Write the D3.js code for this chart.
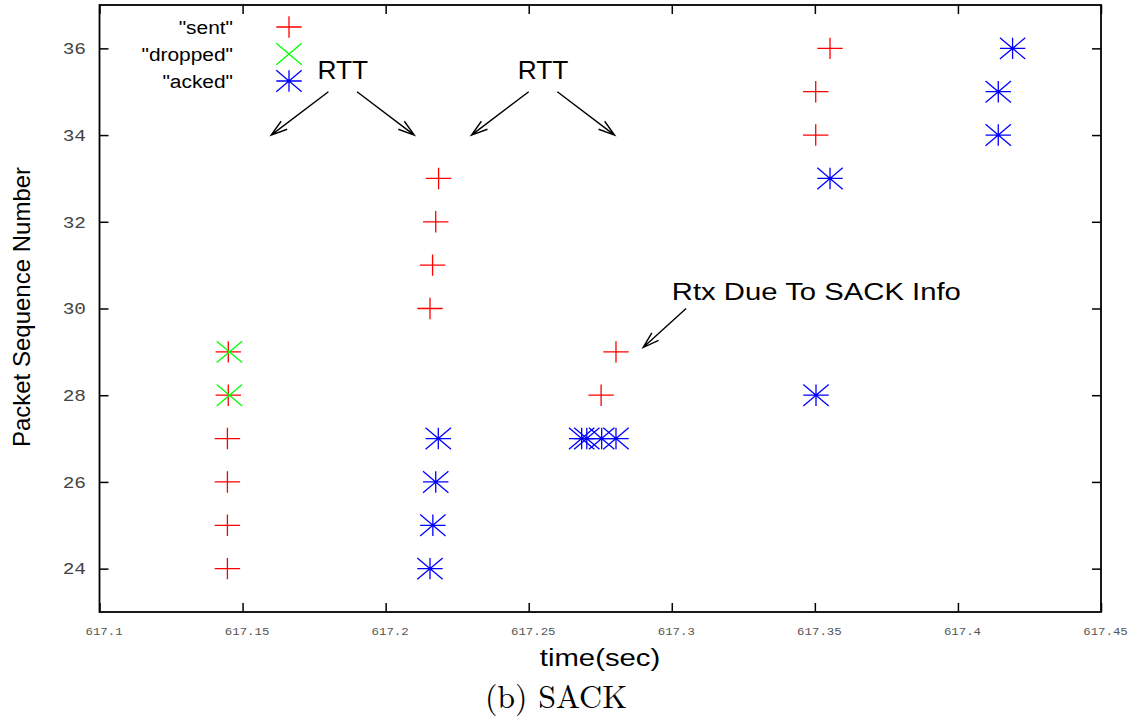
<!DOCTYPE html>
<html>
<head>
<meta charset="utf-8">
<script src="https://cdn.jsdelivr.net/npm/d3@7"></script>
<style>
body { margin: 0; background: #fff; }
</style>
</head>
<body>
<div id="chart"></div>
<script>
// series: time (sec) and packet sequence number
let sentTime = [617.1447, 617.1447, 617.1447, 617.1447, 617.1450, 617.1450,
  617.2155, 617.2164, 617.2175, 617.2185, 617.2753, 617.2805,
  617.3503, 617.3503, 617.3553];
let sentSeq = [24, 25, 26, 27, 28, 29, 30, 31, 32, 33, 28, 29, 34, 35, 36];

let droppedTime = [617.1454, 617.1454];
let droppedSeq = [28, 29];

let ackedTime = [617.2155, 617.2165, 617.2175, 617.2184,
  617.2685, 617.2703, 617.2755, 617.2805,
  617.3504, 617.3553, 617.4141, 617.4141, 617.4191];
let ackedSeq = [24, 25, 26, 27, 27, 27, 27, 27, 28, 33, 34, 35, 36];

let xTicks = [617.1, 617.15, 617.2, 617.25, 617.3, 617.35, 617.4, 617.45];
let xTickLabels = ["617.1", "617.15", "617.2", "617.25", "617.3", "617.35", "617.4", "617.45"];
let yTicks = [24, 26, 28, 30, 32, 34, 36];

let legendNames = ["\"sent\"", "\"dropped\"", "\"acked\""];

// annotations (data coordinates)
let arrowFrom = [[617.18, 35], [617.19, 35], [617.25, 35], [617.26, 35], [617.305, 30]];
let arrowTo = [[617.16, 34], [617.21, 34], [617.23, 34], [617.28, 34], [617.29, 29.1]];
let labelText = ["RTT", "RTT", "Rtx Due To SACK Info"];
let labelPos = [[617.185, 35.5], [617.255, 35.5], [617.3, 30.4]];

let width = 1139, height = 721;
let sans = "'Liberation Sans', Arial, sans-serif";
let mono = "'Liberation Mono', 'Courier New', monospace";

let svg = d3.select("#chart")
  .append("svg")
  .attr("width", width)
  .attr("height", height)
  .style("background", "#fff")
  .style("font-family", sans);

let x = d3.scaleLinear().domain([617.1, 617.45]).range([99.5, 1101]);
let y = d3.scaleLinear().domain([23, 37]).range([612, 5]);

let hw = 12.7, hh = 10.7;

function plus(px, py) {
  return `M${px - hw},${py}H${px + hw}M${px},${py - hh}V${py + hh}`;
}
function cross(px, py) {
  return `M${px - hw},${py - hh}L${px + hw},${py + hh}M${px - hw},${py + hh}L${px + hw},${py - hh}`;
}
function star(px, py) {
  return plus(px, py) + cross(px, py);
}

// axes, ticks pointing inward on all four sides
function styleAxis(g) {
  g.select(".domain").remove();
  g.selectAll(".tick line").attr("stroke", "#000").attr("stroke-width", 1.5);
}

svg.append("g")
  .attr("transform", `translate(0,${y(23)})`)
  .call(d3.axisBottom(x).tickValues(xTicks).tickSize(-9).tickPadding(16)
    .tickFormat((d, i) => xTickLabels[i]))
  .call(styleAxis)
  .call(g => g.selectAll("text")
    .style("font-family", mono)
    .style("font-size", "10.5px")
    .attr("fill", "#555")
    .attr("dx", 3.4)
    .attr("transform", "scale(1.18,1)"));

svg.append("g")
  .attr("transform", `translate(0,${y(37)})`)
  .call(d3.axisTop(x).tickValues(xTicks).tickSize(-9).tickFormat(""))
  .call(styleAxis);

svg.append("g")
  .attr("transform", `translate(${x(617.1)},0)`)
  .call(d3.axisLeft(y).tickValues(yTicks).tickSize(-9).tickPadding(11.4))
  .call(styleAxis)
  .call(g => g.selectAll("text")
    .style("font-family", mono)
    .style("font-size", "16.5px")
    .attr("fill", "#444")
    .attr("transform", "scale(1.18,1)"));

svg.append("g")
  .attr("transform", `translate(${x(617.45)},0)`)
  .call(d3.axisRight(y).tickValues(yTicks).tickSize(-9).tickFormat(""))
  .call(styleAxis);

// frame
svg.append("rect")
  .attr("x", x(617.1))
  .attr("y", y(37))
  .attr("width", x(617.45) - x(617.1))
  .attr("height", y(23) - y(37))
  .attr("fill", "none")
  .attr("stroke", "#000")
  .attr("stroke-width", 1.8);

// points
let series = [
  { t: sentTime, s: sentSeq, color: "#ff0000", shape: plus },
  { t: droppedTime, s: droppedSeq, color: "#00ff00", shape: cross },
  { t: ackedTime, s: ackedSeq, color: "#0000ff", shape: star }
];

series.forEach(sr => {
  svg.append("g").selectAll("path")
    .data(sr.t.map((t, i) => [t, sr.s[i]]))
    .enter()
    .append("path")
    .attr("d", d => sr.shape(x(d[0]), y(d[1])))
    .attr("fill", "none")
    .attr("stroke", sr.color)
    .attr("stroke-width", 1.3);
});

// legend
let legend = svg.append("g");
series.forEach((sr, i) => {
  let ly = 27 + i * 27;
  legend.append("text")
    .attr("transform", `translate(233,${ly}) scale(1.1,1)`)
    .attr("dy", "0.35em")
    .attr("text-anchor", "end")
    .style("font-size", "19px")
    .text(legendNames[i]);
  legend.append("path")
    .attr("d", sr.shape(289, ly))
    .attr("fill", "none")
    .attr("stroke", sr.color)
    .attr("stroke-width", 1.3);
});

// arrows
let headLen = 17, headAng = 0.3;
arrowFrom.forEach((a, i) => {
  let x1 = x(a[0]), y1 = y(a[1]);
  let x2 = x(arrowTo[i][0]), y2 = y(arrowTo[i][1]);
  let ang = Math.atan2(y1 - y2, x1 - x2);
  let d = `M${x1},${y1}L${x2},${y2}` +
    `M${x2 + headLen * Math.cos(ang - headAng)},${y2 + headLen * Math.sin(ang - headAng)}L${x2},${y2}` +
    `L${x2 + headLen * Math.cos(ang + headAng)},${y2 + headLen * Math.sin(ang + headAng)}`;
  svg.append("path")
    .attr("d", d)
    .attr("fill", "none")
    .attr("stroke", "#000")
    .attr("stroke-width", 1.4);
});

labelText.forEach((t, i) => {
  let big = t == "RTT";
  svg.append("text")
    .attr("transform", `translate(${x(labelPos[i][0])},${y(labelPos[i][1])}) scale(${big ? 1.05 : 1.22},1)`)
    .attr("dy", "0.35em")
    .attr("text-anchor", big ? "middle" : "start")
    .style("font-size", big ? "25px" : "24px")
    .text(t);
});

// axis titles and caption
svg.append("text")
  .attr("transform", "translate(30,307) rotate(-90)")
  .attr("text-anchor", "middle")
  .style("font-size", "24px")
  .text("Packet Sequence Number");

svg.append("text")
  .attr("transform", "translate(600,666) scale(1.22,1)")
  .attr("text-anchor", "middle")
  .style("font-size", "24px")
  .text("time(sec)");

svg.append("text")
  .attr("transform", "translate(556,708)")
  .attr("text-anchor", "middle")
  .style("font-family", "'Latin Modern Roman', 'Liberation Serif', 'Times New Roman', serif")
  .style("font-size", "32px")
  .text("(b) SACK");
</script>
</body>
</html>
